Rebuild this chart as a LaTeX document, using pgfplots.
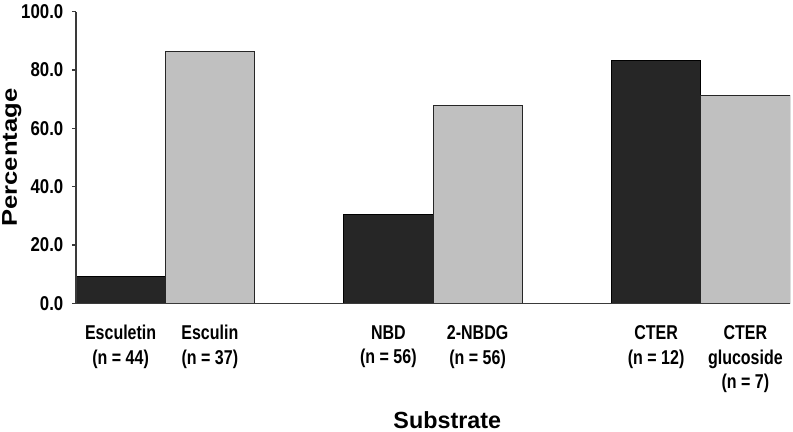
\documentclass[border=0pt]{standalone}
\usepackage{fontspec}
\setmainfont{Liberation Sans}
\newfontfamily\narrowfont[FakeStretch=0.8]{Liberation Sans}
\newfontfamily\digitfont[FakeStretch=0.84]{Liberation Sans}
\newfontfamily\tallfont[FakeStretch=1.2]{Liberation Sans}
\usepackage{pgfplots}
\usetikzlibrary{calc}
\pgfplotsset{compat=1.18}
\definecolor{darkbar}{HTML}{262626}
\definecolor{lightbar}{HTML}{C0C0C0}
\definecolor{axisgray}{HTML}{3A3A3A}
\begin{document}
\begin{tikzpicture}
\begin{axis}[
  scale only axis,
  width=535.5pt, height=218.7pt,
  xmin=0, xmax=8,
  ymin=0, ymax=100,
  axis lines=left,
  axis line style={-, axisgray, line width=0.9pt},
  axis on top,
  xtick={0.5,1.5,3.5,4.5,6.5,7.5},
  xticklabels={{Esculetin\\(n = 44)},{Esculin\\(n = 37)},{NBD\\(n = 56)},{2-NBDG\\(n = 56)},{CTER\\(n = 12)},{CTER\\glucoside\\(n = 7)}},
  x tick style={draw=none},
  xticklabel style={align=center, font=\narrowfont\bfseries\fontsize{15}{18.5}\selectfont, yshift=-10pt},
  ytick={0,20,...,100},
  y tick style={axisgray, line width=0.9pt},
  tick align=outside,
  major tick length=3pt,
  yticklabel style={font=\digitfont\bfseries\fontsize{15}{18}\selectfont, xshift=-3pt},
  /pgf/number format/.cd, fixed, fixed zerofill, precision=1, assume math mode=true,
  /pgfplots/.cd,
  xlabel={Substrate},
  xlabel style={font=\bfseries\fontsize{17.5}{20}\selectfont, at={(axis description cs:0.52,0)}, anchor=base, yshift=-93.5pt},
  ylabel={Percentage},
  ylabel style={font=\tallfont\bfseries\fontsize{16}{18}\selectfont, at={(axis description cs:0,0.5)}, anchor=north, inner sep=0pt, yshift=55.5pt},
]
\addplot[ybar, bar shift=0pt, bar width=1, fill=darkbar, draw=black, line width=0.6pt]
  coordinates {(0.5,9.1) (3.5,30.4) (6.5,83.3)};
\addplot[ybar, bar shift=0pt, bar width=1, fill=lightbar, draw=black!85, line width=0.6pt]
  coordinates {(1.5,86.5) (4.5,67.9) (7.5,71.4)};
\end{axis}
\pgfresetboundingbox
\path (current axis.south west) ++(-57pt,-95.8pt) rectangle ($(current axis.south west)+(537.75pt,227.5pt)$);
\end{tikzpicture}
\end{document}
